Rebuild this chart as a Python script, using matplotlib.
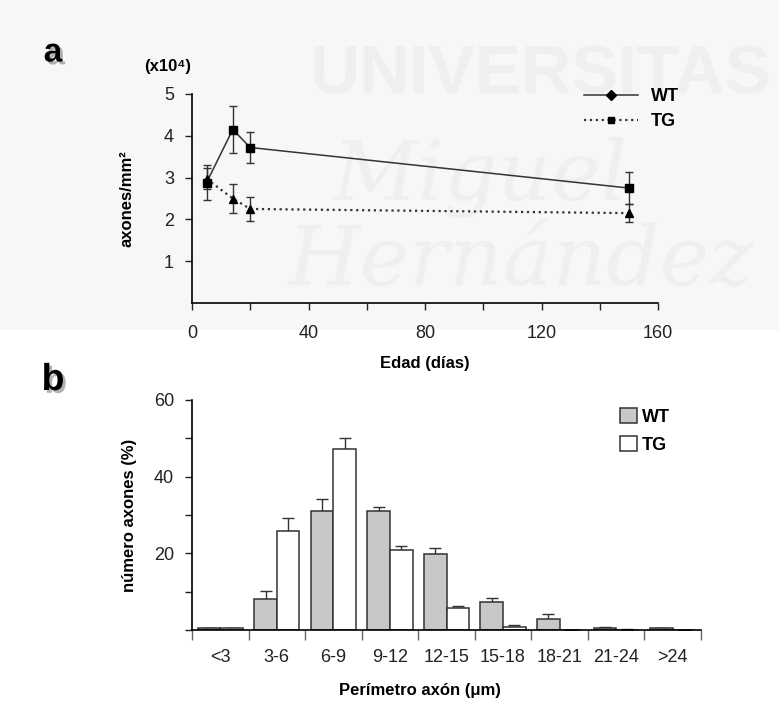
import matplotlib.pyplot as plt
import matplotlib.patheffects as pe
from matplotlib.lines import Line2D
from matplotlib.patches import Patch, Rectangle
import numpy as np

plt.rcParams['font.family'] = ['Liberation Sans', 'DejaVu Sans']

# panel a: axon density vs age
edad = [5, 14, 20, 150]
wt_dens = [2.88, 4.15, 3.72, 2.75]
wt_err = [0.42, 0.57, 0.37, 0.38]
tg_dens = [2.97, 2.50, 2.25, 2.15]
tg_err = [0.25, 0.35, 0.29, 0.21]

# panel b: axon perimeter distribution
categorias = ['<3', '3-6', '6-9', '9-12', '12-15', '15-18', '18-21', '21-24', '>24']
wt_pct = [0.5, 8.0, 31.0, 31.0, 19.8, 7.3, 2.8, 0.5, 0.4]
wt_pct_err = [0.1, 2.2, 3.2, 1.1, 1.5, 1.1, 1.5, 0.4, 0.1]
tg_pct = [0.5, 25.9, 47.2, 20.9, 5.7, 0.8, 0.0, 0.1, 0.0]
tg_pct_err = [0.1, 3.2, 2.8, 0.9, 0.6, 0.4, 0.0, 0.1, 0.0]

W, H = 779, 702
fig = plt.figure(figsize=(W / 100, H / 100), dpi=100)

# light watermark background of panel a
fig.patches.append(Rectangle((0, 1 - 330 / H), 1, 330 / H, transform=fig.transFigure,
                             facecolor='#f7f7f7', edgecolor='none', zorder=-3))
wm = '#efefef'
fig.text(772 / W, 1 - 76 / H, 'UNIVERSITAS', fontsize=50, fontweight='bold', color=wm,
         ha='right', va='center', zorder=-2)
fig.text(480 / W, 1 - 178 / H, 'Miguel', fontsize=60, style='italic', family='DejaVu Serif',
         color=wm, ha='center', va='center', zorder=-2)
fig.text(520 / W, 1 - 262 / H, 'Hernández', fontsize=60, style='italic', family='DejaVu Serif',
         color=wm, ha='center', va='center', zorder=-2)

tick_fs = 13
lab_fs = 12
shadow = [pe.withSimplePatchShadow(offset=(2, -2), shadow_rgbFace='0.5', alpha=0.6)]

# ---------- panel a ----------
ax = fig.add_axes([192 / W, 1 - 303 / H, 466 / W, 209 / H])
ax.patch.set_alpha(0)
ax.errorbar(edad, wt_dens, yerr=wt_err, fmt='s-', color='#333333', mfc='black', mec='black',
            ms=6, lw=1.1, capsize=3, elinewidth=1, ecolor='#333333', zorder=3)
ax.errorbar(edad, tg_dens, yerr=tg_err, fmt='^:', color='#333333', mfc='black', mec='black',
            ms=6, lw=1.6, capsize=3, elinewidth=1, ecolor='#333333', zorder=3)
ax.set_xlim(0, 160)
ax.set_ylim(0, 5)
ax.set_xticks([0, 40, 80, 120, 160])
ax.set_xticks([20, 60, 100, 140], minor=True)
ax.set_yticks([1, 2, 3, 4, 5])
ax.tick_params(which='both', direction='out', length=5, width=1, labelsize=tick_fs, colors='#222222')
ax.tick_params(axis='y', pad=8)
ax.tick_params(axis='x', pad=11)
for s in ['top', 'right']:
    ax.spines[s].set_visible(False)
for s in ['left', 'bottom']:
    ax.spines[s].set_linewidth(1.2)
ax.set_ylabel('axones/mm²', fontsize=lab_fs, fontweight='bold', labelpad=21)
ax.set_xlabel('Edad (días)', fontsize=lab_fs, fontweight='bold', labelpad=10)

handles_a = [Line2D([], [], color='#333333', lw=1.1, marker='D', ms=5, mfc='black', mec='black'),
             Line2D([], [], color='#333333', lw=1.6, ls=':', marker='s', ms=5, mfc='black', mec='black')]
ax.legend(handles_a, ['WT', 'TG'], loc='center left', bbox_to_anchor=(568 / W, 1 - 109 / H),
          bbox_transform=fig.transFigure, frameon=False, handlelength=3.0, handletextpad=0.7,
          labelspacing=0.45, prop={'weight': 'bold', 'size': 13})

fig.text(168 / W, 1 - 66 / H, '(x10⁴)', fontsize=12, fontweight='bold', ha='center', va='center')
fig.text(53 / W, 1 - 53 / H, 'a', fontsize=24, fontweight='bold', ha='center', va='center',
         path_effects=shadow)

# ---------- panel b ----------
bx = fig.add_axes([192 / W, 1 - 630 / H, 509 / W, 230 / H])
x = np.arange(len(categorias))
bw = 0.4
bx.bar(x - bw / 2, wt_pct, bw, color='#c8c8c8', edgecolor='#333333', lw=1.1, zorder=2)
bx.bar(x + bw / 2, tg_pct, bw, color='white', edgecolor='#333333', lw=1.1, zorder=2)
bx.errorbar(x - bw / 2, wt_pct, yerr=[np.zeros(len(x)), wt_pct_err], fmt='none',
            ecolor='#333333', elinewidth=1, capsize=4, zorder=1)
bx.errorbar(x + bw / 2, tg_pct, yerr=[np.zeros(len(x)), tg_pct_err], fmt='none',
            ecolor='#333333', elinewidth=1, capsize=4, zorder=1)
bx.set_xlim(-0.5, len(categorias) - 0.5)
bx.set_ylim(0, 60)
bx.set_yticks([20, 40, 60])
bx.set_yticks([0, 10, 30, 50], minor=True)
bx.set_xticks(x)
bx.set_xticklabels(categorias)
bx.set_xticks(np.arange(len(categorias) + 1) - 0.5, minor=True)
bx.tick_params(axis='x', which='major', length=0, labelsize=tick_fs, pad=14, colors='#222222')
bx.tick_params(axis='x', which='minor', direction='out', length=7, width=1, color='#666666')
bx.tick_params(axis='y', which='both', direction='out', length=5, width=1, labelsize=tick_fs,
               pad=8, colors='#222222')
for s in ['top', 'right']:
    bx.spines[s].set_visible(False)
for s in ['left', 'bottom']:
    bx.spines[s].set_linewidth(1.2)
bx.set_ylabel('número axones (%)', fontsize=lab_fs, fontweight='bold', labelpad=12)

handles_b = [Patch(facecolor='#c8c8c8', edgecolor='#333333', lw=1.1),
             Patch(facecolor='white', edgecolor='#333333', lw=1.1)]
bx.legend(handles_b, ['WT', 'TG'], loc='center left', bbox_to_anchor=(604 / W, 1 - 431 / H),
          bbox_transform=fig.transFigure, frameon=False, handlelength=0.9, handleheight=0.9,
          handletextpad=0.3, labelspacing=0.55, prop={'weight': 'bold', 'size': 13})

fig.text(420 / W, 1 - 690 / H, 'Perímetro axón (μm)', fontsize=lab_fs, fontweight='bold',
         ha='center', va='center')
fig.text(53 / W, 1 - 380 / H, 'b', fontsize=27, fontweight='bold', ha='center', va='center',
         path_effects=shadow)

fig.savefig('out.png', dpi=100)
